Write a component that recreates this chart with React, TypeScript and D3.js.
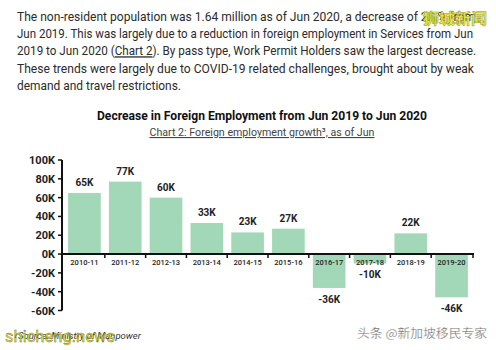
import React, { useEffect, useRef } from "react";
import * as d3 from "d3";

const years = ["2010-11", "2011-12", "2012-13", "2013-14", "2014-15", "2015-16", "2016-17", "2017-18", "2018-19", "2019-20"];
const growth = [65, 77, 60, 33, 23, 27, -36, -10, 22, -46];
const yTicks = [100, 80, 60, 40, 20, 0, -20, -40, -60];

const paragraph = [
  "The non-resident population was 1.64 million as of Jun 2020, a decrease of 2.1% from",
  "Jun 2019. This was largely due to a reduction in foreign employment in Services from Jun",
  "2019 to Jun 2020 (Chart 2). By pass type, Work Permit Holders saw the largest decrease.",
  "These trends were largely due to COVID-19 related challenges, brought about by weak",
  "demand and travel restrictions.",
];
const paraWidths = [458, 456, 459, 457, 164];

const W = 496;
const H = 350;
const BAR = "#a2d7b7";
const FONT = "Roboto, 'Noto Sans', sans-serif";

export default function App() {
  const ref = useRef<SVGSVGElement>(null);

  useEffect(() => {
    const svg = d3.select(ref.current);
    svg.selectAll("*").remove();

    svg.append("rect").attr("width", W).attr("height", H).attr("fill", "#fff");

    // intro paragraph
    const para = svg.append("g").attr("font-family", FONT).attr("font-size", 13).attr("fill", "#2b2b2b");
    paragraph.forEach((line, i) => {
      const t = para
        .append("text")
        .attr("x", 17)
        .attr("y", 20.5 + i * 17.4)
        .attr("textLength", paraWidths[i])
        .attr("lengthAdjust", "spacingAndGlyphs");
      if (line.includes("(Chart 2)")) {
        const [a, b] = line.split("Chart 2");
        t.append("tspan").text(a);
        t.append("tspan").attr("text-decoration", "underline").text("Chart 2");
        t.append("tspan").text(b);
      } else {
        t.text(line);
      }
    });

    // titles
    svg
      .append("text")
      .attr("x", 262)
      .attr("y", 120)
      .attr("text-anchor", "middle")
      .attr("font-family", FONT)
      .attr("font-weight", 700)
      .attr("font-size", 13)
      .attr("textLength", 330)
      .attr("lengthAdjust", "spacingAndGlyphs")
      .attr("fill", "#111")
      .text("Decrease in Foreign Employment from Jun 2019 to Jun 2020");
    const sub = svg
      .append("text")
      .attr("x", 262)
      .attr("y", 136)
      .attr("text-anchor", "middle")
      .attr("font-family", FONT)
      .attr("font-size", 11)
      .attr("textLength", 225)
      .attr("lengthAdjust", "spacingAndGlyphs")
      .attr("fill", "#444")
      .attr("text-decoration", "underline");
    sub.append("tspan").text("Chart 2: Foreign employment growth³, as of Jun");

    // scales
    const x = d3.scaleBand<string>().domain(years).range([62, 474]).paddingInner(0.2).paddingOuter(0.15);
    const y = d3.scaleLinear().domain([-60, 100]).range([310.5, 160]);

    const g = svg.append("g").attr("font-family", FONT);

    // bars
    g.selectAll("rect.bar")
      .data(growth)
      .enter()
      .append("rect")
      .attr("class", "bar")
      .attr("x", (_, i) => x(years[i])!)
      .attr("width", x.bandwidth())
      .attr("y", (d) => y(Math.max(0, d)))
      .attr("height", (d) => Math.abs(y(d) - y(0)))
      .attr("fill", BAR);

    // value labels
    g.selectAll("text.val")
      .data(growth)
      .enter()
      .append("text")
      .attr("class", "val")
      .attr("x", (_, i) => x(years[i])! + x.bandwidth() / 2)
      .attr("y", (d) => (d >= 0 ? y(d) - 7 : y(d) + 15))
      .attr("text-anchor", "middle")
      .attr("font-size", 10)
      .attr("font-weight", 700)
      .attr("fill", "#222")
      .text((d) => `${d}K`);

    // x axis line + ticks between bands
    g.append("line")
      .attr("x1", 62)
      .attr("x2", 474)
      .attr("y1", y(0))
      .attr("y2", y(0))
      .attr("stroke", "#111")
      .attr("stroke-width", 2);
    const step = x.step();
    years.forEach((yr, i) => {
      if (i === 0) return;
      const bx = x(yr)! - (step - x.bandwidth()) / 2;
      g.append("line")
        .attr("x1", bx)
        .attr("x2", bx)
        .attr("y1", y(0))
        .attr("y2", y(0) + 4)
        .attr("stroke", "#111")
        .attr("stroke-width", 1.5);
    });
    g.append("line")
      .attr("x1", 473)
      .attr("x2", 473)
      .attr("y1", y(0))
      .attr("y2", y(0) + 4)
      .attr("stroke", "#111")
      .attr("stroke-width", 1.5);

    g.selectAll("text.cat")
      .data(years)
      .enter()
      .append("text")
      .attr("class", "cat")
      .attr("x", (d) => x(d)! + x.bandwidth() / 2)
      .attr("y", y(0) + 11)
      .attr("text-anchor", "middle")
      .attr("font-size", 7.5)
      .attr("font-weight", 500)
      .attr("fill", "#222")
      .text((d) => d);

    // y axis
    g.append("line")
      .attr("x1", 62)
      .attr("x2", 62)
      .attr("y1", y(100))
      .attr("y2", y(-60))
      .attr("stroke", "#111")
      .attr("stroke-width", 2);
    yTicks.forEach((t) => {
      g.append("line")
        .attr("x1", 58)
        .attr("x2", 62)
        .attr("y1", y(t))
        .attr("y2", y(t))
        .attr("stroke", "#111")
        .attr("stroke-width", 1.5);
      g.append("text")
        .attr("x", 55)
        .attr("y", y(t) + 4)
        .attr("text-anchor", "end")
        .attr("font-size", 11)
        .attr("font-weight", 700)
        .attr("fill", "#222")
        .text(`${t}K`);
    });

    // source
    svg
      .append("text")
      .attr("x", 18)
      .attr("y", 339)
      .attr("font-family", FONT)
      .attr("font-size", 9.5)
      .attr("font-style", "italic")
      .attr("fill", "#333")
      .text("Source: Ministry of Manpower");

    // watermarks
    svg
      .append("text")
      .attr("x", 5)
      .attr("y", 342)
      .attr("font-family", FONT)
      .attr("font-size", 17)
      .attr("fill", "#e4e43a")
      .attr("stroke", "#6a6a20")
      .attr("stroke-width", 0.4)
      .attr("textLength", 110)
      .attr("lengthAdjust", "spacingAndGlyphs")
      .text("shicheng.news");
    svg
      .append("text")
      .attr("x", 423)
      .attr("y", 24)
      .attr("font-family", "'Noto Sans CJK SC'")
      .attr("font-size", 15)
      .attr("font-weight", 700)
      .attr("fill", "#f2f04a")
      .attr("stroke", "#9a9620")
      .attr("stroke-width", 0.5)
      .attr("textLength", 64)
      .attr("lengthAdjust", "spacingAndGlyphs")
      .text("狮城新闻");
    svg
      .append("text")
      .attr("x", 357)
      .attr("y", 338)
      .attr("font-family", "'Noto Sans CJK SC'")
      .attr("font-size", 12)
      .attr("fill", "#777")
      .attr("stroke", "#fff")
      .attr("stroke-width", 0.2)
      .attr("textLength", 130)
      .attr("lengthAdjust", "spacingAndGlyphs")
      .text("头条 @新加坡移民专家");
  }, []);

  return (
    <svg
      ref={ref}
      width={W}
      height={H}
      style={{ position: "fixed", left: 0, top: 0, display: "block" }}
    />
  );
}
